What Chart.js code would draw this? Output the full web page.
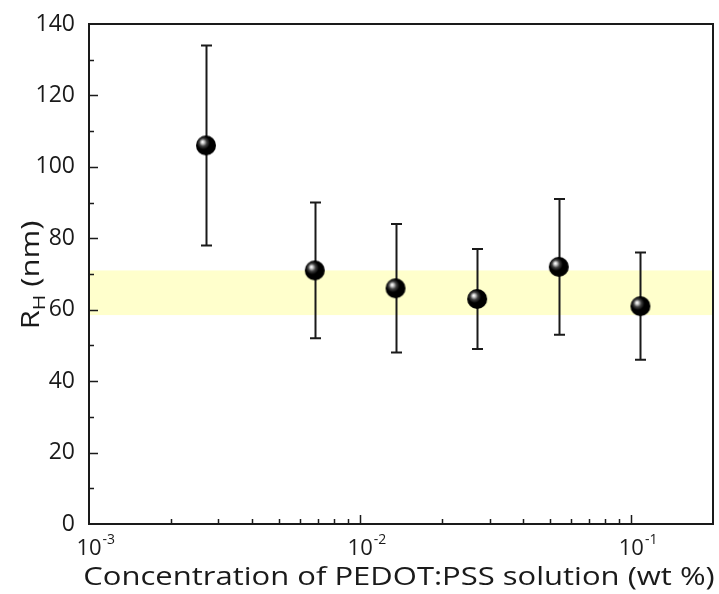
<!DOCTYPE html>
<html>
<head>
<meta charset="utf-8">
<script src="https://cdn.jsdelivr.net/npm/chart.js@4.4.1/dist/chart.umd.min.js"></script>
<style>
  html, body { margin: 0; padding: 0; background: #fff; }
  #wrap { width: 719px; height: 594px; }
</style>
</head>
<body>
<div id="wrap"><canvas id="chart"></canvas></div>
<script>
// concentration of PEDOT:PSS (wt %) vs hydrodynamic radius R_H (nm)
const concentrations = [0.0027, 0.0068, 0.0135, 0.027, 0.054, 0.108];
const radius = [106, 71, 66, 63, 72, 61];
const errLow = [78, 52, 48, 49, 53, 46];
const errHigh = [134, 90, 84, 77, 91, 76];
const bandRange = [58.5, 71];      // yellow band (nm)
const xDecades = [-3, -2, -1];     // labelled powers of ten
const yLabelStep = 20;
const xTitle = 'Concentration of PEDOT:PSS solution (wt %)';

const FONT = "'Open Sans', 'Noto Sans', sans-serif";
const INK = '#1a1a1a';
const TITLE_STRETCH = 1.24;  // titles in the original use a wide face

// black glossy sphere used as point marker
function makeSphere(r) {
    const c = document.createElement('canvas');
    c.width = c.height = r * 2 + 2;
    const g = c.getContext('2d');
    const cx = r + 1, cy = r + 1;
    const grad = g.createRadialGradient(cx - r * 0.35, cy - r * 0.35, 0, cx - r * 0.2, cy - r * 0.2, r * 1.1);
    grad.addColorStop(0, '#ffffff');
    grad.addColorStop(0.12, '#d8d8d8');
    grad.addColorStop(0.35, '#404040');
    grad.addColorStop(0.6, '#000000');
    grad.addColorStop(1, '#000000');
    g.fillStyle = grad;
    g.beginPath();
    g.arc(cx, cy, r, 0, Math.PI * 2);
    g.fill();
    return c;
}

// yellow band + error bars under the points
const underlay = {
    id: 'underlay',
    beforeDatasetsDraw(chart) {
        const { ctx, chartArea: a, scales: { x, y } } = chart;
        ctx.save();
        ctx.fillStyle = '#ffffcc';
        const y1 = y.getPixelForValue(bandRange[1]);
        const y0 = y.getPixelForValue(bandRange[0]);
        ctx.fillRect(a.left, y1, a.right - a.left, y0 - y1);

        ctx.strokeStyle = INK;
        ctx.lineWidth = 2;
        concentrations.forEach((c, i) => {
            const px = Math.round(x.getPixelForValue(c)) + 0.5;
            const top = y.getPixelForValue(errHigh[i]);
            const bot = y.getPixelForValue(errLow[i]);
            ctx.beginPath();
            ctx.moveTo(px, top); ctx.lineTo(px, bot);
            ctx.moveTo(px - 5.5, top); ctx.lineTo(px + 5.5, top);
            ctx.moveTo(px - 5.5, bot); ctx.lineTo(px + 5.5, bot);
            ctx.stroke();
        });
        ctx.restore();
    }
};

// frame, inward ticks, x labels with superscripts, axis titles
const frame = {
    id: 'frame',
    afterDraw(chart) {
        const { ctx, chartArea: a, scales: { x, y } } = chart;
        ctx.save();
        ctx.strokeStyle = INK;
        ctx.lineWidth = 2;
        ctx.strokeRect(a.left, a.top, a.right - a.left, a.bottom - a.top);

        ctx.lineWidth = 1.5;
        ctx.beginPath();
        for (let v = 10; v < 140; v += 10) {
            const py = Math.round(y.getPixelForValue(v)) + 0.5;
            const len = v % yLabelStep === 0 ? 9 : 5;
            ctx.moveTo(a.left, py); ctx.lineTo(a.left + len, py);
        }
        xDecades.forEach(d => {
            for (let m = 1; m <= 9; m++) {
                const v = m * Math.pow(10, d);
                if (v <= x.min || v >= x.max) continue;
                const px = Math.round(x.getPixelForValue(v)) + 0.5;
                const len = m === 1 ? 9 : 5;
                ctx.moveTo(px, a.bottom); ctx.lineTo(px, a.bottom - len);
            }
        });
        ctx.stroke();

        // x tick labels 10^n
        ctx.fillStyle = INK;
        ctx.textBaseline = 'alphabetic';
        ctx.textAlign = 'left';
        xDecades.forEach(d => {
            const px = x.getPixelForValue(Math.pow(10, d));
            ctx.font = '22px ' + FONT;
            const w = ctx.measureText('10').width;
            ctx.fillText('10', px - w / 2, a.bottom + 31);
            ctx.font = '14px ' + FONT;
            ctx.fillText('-' + Math.abs(d), px + w / 2 + 1, a.bottom + 20);
        });

        // x title
        ctx.save();
        ctx.font = '500 25px ' + FONT;
        ctx.textAlign = 'center';
        ctx.translate((a.left + a.right) / 2 - 2, 585);
        ctx.scale(TITLE_STRETCH, 1);
        ctx.fillText(xTitle, 0, 0);
        ctx.restore();

        // y title R_H (nm)
        ctx.translate(39, 275);
        ctx.rotate(-Math.PI / 2);
        ctx.scale(TITLE_STRETCH, 1);
        ctx.font = '500 25px ' + FONT;
        const wR = ctx.measureText('R').width;
        const wRest = ctx.measureText(' (nm)').width;
        ctx.font = '500 17px ' + FONT;
        const wH = ctx.measureText('H').width;
        const sx = -(wR + wH + wRest) / 2;
        ctx.font = '500 25px ' + FONT;
        ctx.fillText('R', sx, 0);
        ctx.font = '500 17px ' + FONT;
        ctx.fillText('H', sx + wR, 6);
        ctx.font = '500 25px ' + FONT;
        ctx.fillText(' (nm)', sx + wR + wH, 0);
        ctx.restore();
    }
};

const sphere = makeSphere(10);

new Chart(document.getElementById('chart'), {
    type: 'scatter',
    data: {
        datasets: [{
            data: concentrations.map((c, i) => ({ x: c, y: radius[i] })),
            pointStyle: sphere,
            showLine: false
        }]
    },
    options: {
        responsive: true,
        maintainAspectRatio: false,
        animation: false,
        layout: { padding: { top: 24, right: 6, left: 0, bottom: 0 } },
        plugins: { legend: { display: false }, tooltip: { enabled: false } },
        scales: {
            x: {
                type: 'logarithmic',
                min: 0.001,
                max: 0.2,
                grid: { display: false },
                border: { display: false },
                ticks: { display: false },
                afterFit: s => { s.height = 70; }
            },
            y: {
                min: 0,
                max: 140,
                grid: { display: false },
                border: { display: false },
                ticks: {
                    stepSize: 10,
                    autoSkip: false,
                    padding: 6,
                    color: INK,
                    font: { family: FONT, size: 23 },
                    callback: v => (v % yLabelStep === 0 ? v : '')
                },
                afterFit: s => { s.width = 89; }
            }
        }
    },
    plugins: [underlay, frame]
});
</script>
</body>
</html>
